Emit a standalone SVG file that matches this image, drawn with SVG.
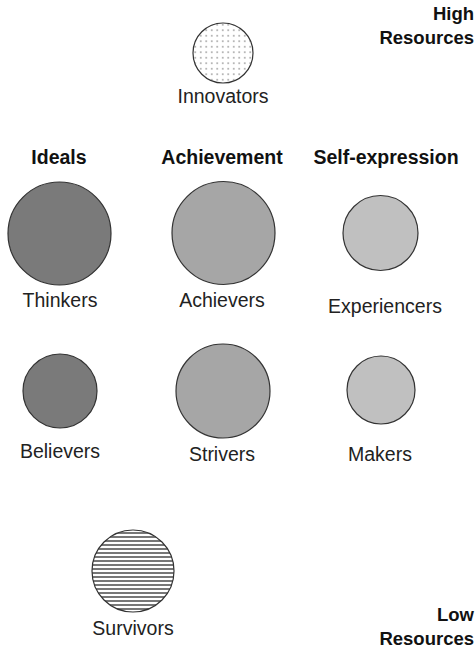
<svg xmlns="http://www.w3.org/2000/svg" width="476" height="649" viewBox="0 0 476 649">
<defs>
<pattern id="dots" width="5.5" height="5.5" patternUnits="userSpaceOnUse">
<rect width="5.5" height="5.5" fill="#fff"/>
<circle cx="2.75" cy="2.75" r="0.6" fill="#333"/>
</pattern>
<pattern id="stripes" width="4" height="4" patternUnits="userSpaceOnUse">
<rect width="4" height="4" fill="#fff"/>
<rect y="0" width="4" height="2" fill="#777"/>
</pattern>
<style>
.c{stroke:#333;stroke-width:1.2}
.dark{fill:#7a7a7a}
.mid{fill:#a6a6a6}
.light{fill:#c0c0c0}
.lbl{font-family:"Liberation Sans",Arial,sans-serif;font-size:19.5px;fill:#222;text-anchor:middle}
.hdr{font-family:"Liberation Sans",Arial,sans-serif;font-size:19.5px;font-weight:bold;fill:#111;text-anchor:middle}
.res{font-family:"Liberation Sans",Arial,sans-serif;font-size:18.5px;font-weight:bold;fill:#111;text-anchor:end}
</style>
</defs>
<g id="axis-high"><text class="res" x="474" y="20">High</text><text class="res" x="474" y="44">Resources</text></g>
<g id="axis-low"><text class="res" x="474" y="621">Low</text><text class="res" x="474" y="645">Resources</text></g>
<g id="headers">
<text class="hdr" x="59" y="164">Ideals</text>
<text class="hdr" x="222" y="164">Achievement</text>
<text class="hdr" x="386" y="164">Self-expression</text>
</g>
<g id="innovators"><circle class="c" cx="223" cy="53" r="30" fill="url(#dots)"/><text class="lbl" x="223" y="103">Innovators</text></g>
<g id="thinkers"><circle class="c dark" cx="59.5" cy="233.5" r="51.5"/><text class="lbl" x="60" y="307">Thinkers</text></g>
<g id="achievers"><circle class="c mid" cx="223.5" cy="233" r="51.5"/><text class="lbl" x="222" y="307">Achievers</text></g>
<g id="experiencers"><circle class="c light" cx="380.5" cy="233" r="37.5"/><text class="lbl" x="385" y="313">Experiencers</text></g>
<g id="believers"><circle class="c dark" cx="60" cy="391" r="37"/><text class="lbl" x="60" y="458">Believers</text></g>
<g id="strivers"><circle class="c mid" cx="223" cy="391" r="47"/><text class="lbl" x="222" y="461">Strivers</text></g>
<g id="makers"><circle class="c light" cx="381" cy="390" r="34"/><text class="lbl" x="380" y="461">Makers</text></g>
<g id="survivors"><circle class="c" cx="133" cy="571" r="41" fill="url(#stripes)"/><text class="lbl" x="133" y="635">Survivors</text></g>
<g id="connectors"></g>
</svg>
